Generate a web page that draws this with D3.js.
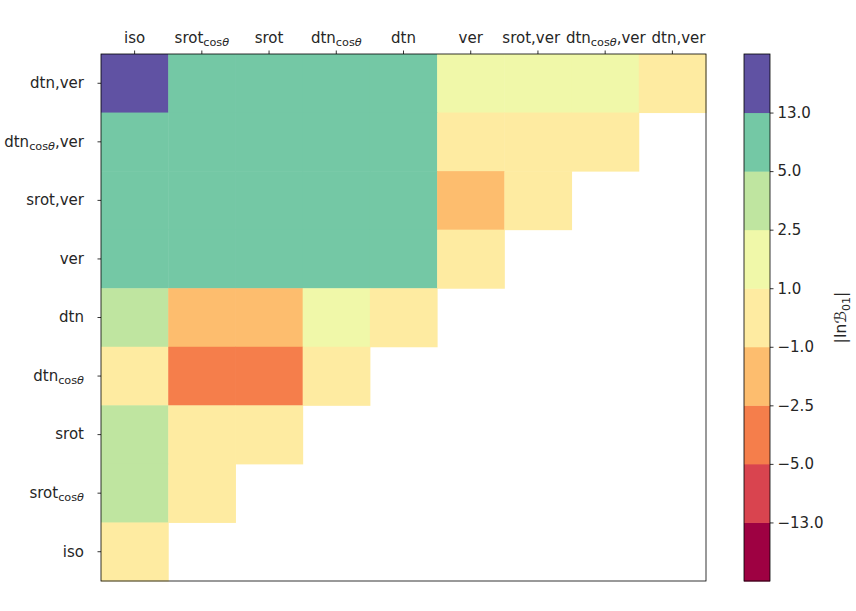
<!DOCTYPE html>
<html>
<head>
<meta charset="utf-8">
<script src="https://cdn.jsdelivr.net/npm/d3@7"></script>
<style>
  body { margin: 0; background: #fff; }
  svg text { font-family: "DejaVu Sans", sans-serif; fill: #262626; }
</style>
</head>
<body>
<div id="chart"></div>
<script>
const colLabels = ['iso', 'srot_{cosθ}', 'srot', 'dtn_{cosθ}', 'dtn', 'ver', 'srot,ver', 'dtn_{cosθ},ver', 'dtn,ver'];
const rowLabels = ['dtn,ver', 'dtn_{cosθ},ver', 'srot,ver', 'ver', 'dtn', 'dtn_{cosθ}', 'srot', 'srot_{cosθ}', 'iso'];

// ln B01 per row (top to bottom) and column (left to right); null = not shown
const rowDtnVer     = [15.2, 9.1, 8.4, 7.6, 6.8, 1.6, 1.4, 1.2, 0.0];
const rowDtnCosVer  = [8.8, 8.2, 7.5, 6.9, 6.1, 0.4, 0.3, 0.2, null];
const rowSrotVer    = [8.5, 7.9, 7.2, 6.6, 5.8, -1.4, 0.1, null, null];
const rowVer        = [8.3, 7.7, 7.0, 6.4, 5.6, 0.0, null, null, null];
const rowDtn        = [3.1, -1.8, -1.6, 1.3, 0.0, null, null, null, null];
const rowDtnCos     = [0.6, -3.4, -3.1, 0.0, null, null, null, null, null];
const rowSrot       = [2.8, 0.4, 0.0, null, null, null, null, null, null];
const rowSrotCos    = [2.7, 0.0, null, null, null, null, null, null, null];
const rowIso        = [0.0, null, null, null, null, null, null, null, null];
const values = [rowDtnVer, rowDtnCosVer, rowSrotVer, rowVer, rowDtn, rowDtnCos, rowSrot, rowSrotCos, rowIso];

const bounds = [-13, -5, -2.5, -1, 1, 2.5, 5, 13];
const boundLabels = ['\u221213.0', '\u22125.0', '\u22122.5', '\u22121.0', '1.0', '2.5', '5.0', '13.0'];
const colors = ['#9e0142', '#d9444f', '#f57e4b', '#fdbd6e', '#feeba1', '#f0f8a9', '#bfe5a0', '#74c8a5', '#6052a3'];

const W = 856, H = 611;
const plot = { left: 101, right: 706, top: 54, bottom: 581 };
const cbar = { left: 744, right: 770, top: 54, bottom: 581 };
const font = 'DejaVu Sans';

const svg = d3.select('#chart').append('svg')
  .attr('width', W).attr('height', H)
  .attr('font-family', font);

const x = d3.scaleBand().domain(d3.range(colLabels.length)).range([plot.left, plot.right]);
const y = d3.scaleBand().domain(d3.range(rowLabels.length)).range([plot.top, plot.bottom]);
const color = d3.scaleThreshold().domain(bounds).range(colors);

// writes "main_{sub}rest" as tspans
function mathLabel(sel, label, size) {
  const m = label.match(/^([^_]*)(?:_\{([^}]*)\})?(.*)$/);
  sel.text(null);
  sel.append('tspan').text(m[1]);
  if (m[2]) {
    const sub = sel.append('tspan').attr('font-size', size * 0.75).attr('dy', size * 0.22);
    sub.append('tspan').text(m[2].replace('θ', ''));
    sub.append('tspan').attr('font-style', 'italic').text('θ');
    sel.append('tspan').attr('dy', -size * 0.22).text(m[3]);
  } else if (m[3]) {
    sel.append('tspan').text(m[3]);
  }
}

// cells
const cells = [];
values.forEach((row, r) => row.forEach((v, c) => { if (v !== null) cells.push({ r, c, v }); }));

svg.append('g').attr('class', 'cells')
  .selectAll('rect')
  .data(cells)
  .enter()
  .append('rect')
  .attr('x', d => x(d.c))
  .attr('y', d => y(d.r))
  .attr('width', x.bandwidth() + 0.5)
  .attr('height', y.bandwidth() + 0.5)
  .attr('fill', d => color(d.v));

// frame
svg.append('rect')
  .attr('x', plot.left).attr('y', plot.top)
  .attr('width', plot.right - plot.left).attr('height', plot.bottom - plot.top)
  .attr('fill', 'none').attr('stroke', '#000').attr('stroke-width', 0.8);

const fs = 15;

// top axis
const xAxis = svg.append('g')
  .attr('transform', `translate(0,${plot.top})`)
  .call(d3.axisTop(x).tickSize(3.5).tickPadding(8));
xAxis.attr('font-family', font).attr('font-size', fs);
xAxis.select('.domain').remove();
xAxis.selectAll('line').attr('stroke', '#000').attr('stroke-width', 0.8);
xAxis.selectAll('text')
  .attr('fill', '#262626')
  .each(function (d) { mathLabel(d3.select(this), colLabels[d], fs); });

// spread crowded top labels apart a little
const gap = 5;
const boxes = [];
xAxis.selectAll('.tick text').each(function (d) {
  const b = this.getBBox();
  boxes.push({ el: this, c: x(d) + x.bandwidth() / 2, w: b.width, shift: 0 });
});
for (let it = 0; it < 50; it++) {
  for (let i = 1; i < boxes.length; i++) {
    const a = boxes[i - 1], b = boxes[i];
    const overlap = (a.c + a.shift + a.w / 2 + gap) - (b.c + b.shift - b.w / 2);
    if (overlap > 0) { a.shift -= overlap / 2; b.shift += overlap / 2; }
  }
}
boxes.forEach(b => d3.select(b.el).attr('x', b.shift));

// left axis
const yAxis = svg.append('g')
  .attr('transform', `translate(${plot.left},0)`)
  .call(d3.axisLeft(y).tickSize(3.5).tickPadding(13.5));
yAxis.attr('font-family', font).attr('font-size', fs);
yAxis.select('.domain').remove();
yAxis.selectAll('line').attr('stroke', '#000').attr('stroke-width', 0.8);
yAxis.selectAll('text')
  .attr('fill', '#262626')
  .each(function (d) { mathLabel(d3.select(this), rowLabels[d], fs); });

// colorbar
const cb = d3.scaleLinear().domain([0, colors.length]).range([cbar.bottom, cbar.top]);
svg.append('g').attr('class', 'colorbar')
  .selectAll('rect')
  .data(colors)
  .enter()
  .append('rect')
  .attr('x', cbar.left)
  .attr('y', (d, i) => cb(i + 1))
  .attr('width', cbar.right - cbar.left)
  .attr('height', (d, i) => cb(i) - cb(i + 1) + 0.5)
  .attr('fill', d => d);

svg.append('rect')
  .attr('x', cbar.left).attr('y', cbar.top)
  .attr('width', cbar.right - cbar.left).attr('height', cbar.bottom - cbar.top)
  .attr('fill', 'none').attr('stroke', '#000').attr('stroke-width', 0.8);

const cAxis = svg.append('g')
  .attr('transform', `translate(${cbar.right},0)`)
  .call(d3.axisRight(cb)
    .tickValues(d3.range(1, colors.length))
    .tickFormat(i => boundLabels[i - 1])
    .tickSize(3.5)
    .tickPadding(4));
cAxis.attr('font-family', font).attr('font-size', fs);
cAxis.select('.domain').remove();
cAxis.selectAll('line').attr('stroke', '#000').attr('stroke-width', 0.8);
cAxis.selectAll('text').attr('fill', '#262626');

// colorbar label
const lab = svg.append('text')
  .attr('transform', `translate(846,${(cbar.top + cbar.bottom) / 2}) rotate(-90)`)
  .attr('text-anchor', 'middle')
  .attr('font-size', 16);
lab.append('tspan').text('|ln');
lab.append('tspan').attr('font-style', 'italic').text('\u212C');
lab.append('tspan').attr('font-size', 11).attr('dy', 4).text('01');
lab.append('tspan').attr('dy', -4).text('|');
</script>
</body>
</html>
